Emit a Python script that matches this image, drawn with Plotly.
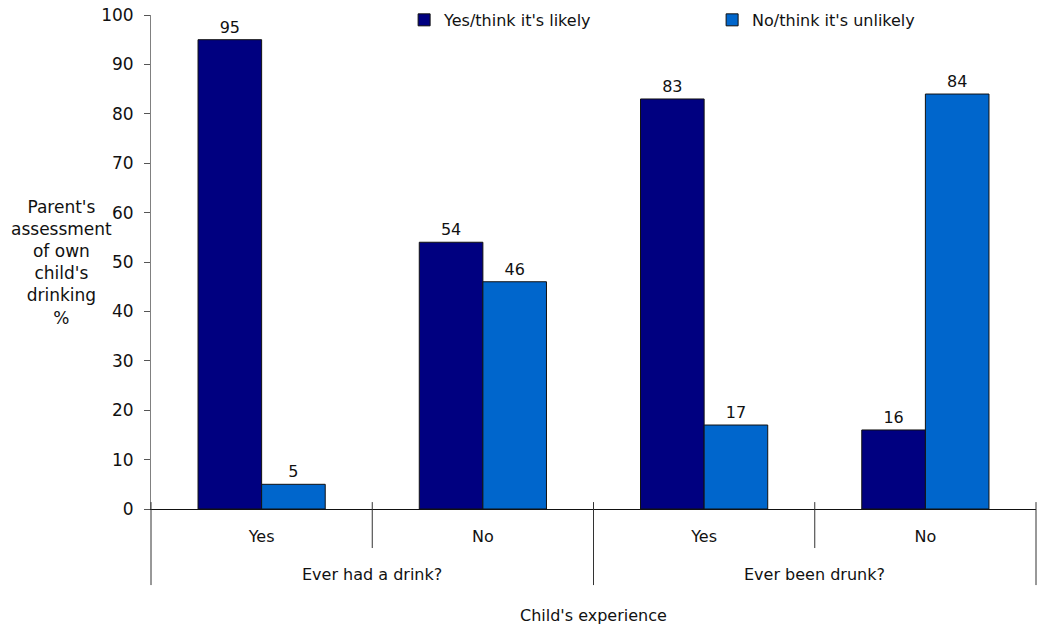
import plotly.graph_objects as go

# Survey groups and answers
groups = ["Ever had a drink?", "Ever been drunk?"]
categories = ["drink_yes", "drink_no", "drunk_yes", "drunk_no"]
answer_labels = ["Yes", "No", "Yes", "No"]
likely = [95, 54, 83, 16]
unlikely = [5, 46, 17, 84]

series_names = ["Yes/think it's likely", "No/think it's unlikely"]
colors = ["#000080", "#0066CC"]

font_family = "DejaVu Sans"
font_color = "#111111"
fs = 16

fig = go.Figure()
for name, vals, col in zip(series_names, [likely, unlikely], colors):
    fig.add_trace(go.Bar(
        x=categories, y=vals, name=name,
        marker=dict(color=col, line=dict(color="#111111", width=1)),
        text=vals, textposition="outside", cliponaxis=False,
        textfont=dict(family=font_family, size=fs, color=font_color),
    ))

fig.update_layout(
    width=1038, height=629,
    margin=dict(l=151, r=2, t=15, b=120, autoexpand=False),
    paper_bgcolor="white", plot_bgcolor="white",
    barmode="group", bargap=0.425, bargroupgap=0,
    font=dict(family=font_family, size=fs, color=font_color),
    showlegend=True,
    legend=dict(orientation="h", x=0.286, y=0.99, xanchor="left", yanchor="middle",
                font=dict(size=fs), itemwidth=30, entrywidth=263,
                bgcolor="rgba(0,0,0,0)", tracegroupgap=0),
    xaxis=dict(
        type="category",
        tickmode="array", tickvals=categories, ticktext=answer_labels,
        showline=True, linecolor="#111111", linewidth=1,
        ticks="", ticklabelstandoff=13, showgrid=False,
        tickfont=dict(size=fs),
    ),
    yaxis=dict(
        range=[0, 100], dtick=10, showgrid=False, zeroline=False,
        showline=True, linecolor="#808080", linewidth=1,
        ticks="outside", tickcolor="#555555", ticklen=6,
        ticklabelstandoff=7,
        tickfont=dict(size=fs + 1),
    ),
)

# Divider lines below the category axis: long ones bound the question groups,
# short ones separate the answers inside each group
for xp in [0.0, 0.5, 1.0]:
    fig.add_shape(type="line", xref="paper", yref="paper", x0=xp, x1=xp,
                  y0=0.014, y1=-0.154, line=dict(color="#333333", width=1))
for xp in [0.25, 0.75]:
    fig.add_shape(type="line", xref="paper", yref="paper", x0=xp, x1=xp,
                  y0=0.014, y1=-0.079, line=dict(color="#333333", width=1))

for i, g in enumerate(groups):
    fig.add_annotation(text=g, xref="paper", yref="paper", x=0.25 + 0.5 * i,
                       y=-0.1336, xanchor="center", yanchor="middle",
                       showarrow=False, font=dict(size=fs))

fig.add_annotation(
    text="Parent's<br>assessment<br>of own<br>child's<br>drinking<br>%",
    xref="paper", yref="paper", x=-0.1006, y=0.50, showarrow=False,
    xanchor="center", yanchor="middle", align="center", font=dict(size=fs + 1),
)
fig.add_annotation(
    text="Child's experience", xref="paper", yref="paper",
    x=0.50, y=-0.2146, showarrow=False, font=dict(size=fs),
    xanchor="center", yanchor="middle",
)

fig.write_html("out.html")
